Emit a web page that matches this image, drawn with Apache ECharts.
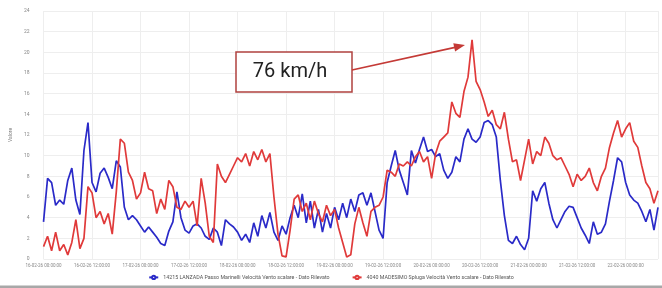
<!DOCTYPE html>
<html>
<head>
<meta charset="utf-8">
<script src="https://cdn.jsdelivr.net/npm/echarts@6/dist/echarts.min.js"></script>
<style>
html, body { margin: 0; padding: 0; background: #fff; }
#chart { width: 662px; height: 288px; }
</style>
</head>
<body>
<div id="chart"></div>
<script>
// x ticks, one every 12 hours
const tickLabels = [
  '16-02-26 00:00:00', '16-02-26 12:00:00', '17-02-26 00:00:00', '17-02-26 12:00:00',
  '18-02-26 00:00:00', '18-02-26 12:00:00', '19-02-26 00:00:00', '19-02-26 12:00:00',
  '20-02-26 00:00:00', '20-02-26 12:00:00', '21-02-26 00:00:00', '21-02-26 12:00:00',
  '22-02-26 00:00:00',
];
const seriesNames = [
  '14215 LANZADA Passo Marinelli Velocità Vento scalare - Dato Rilevato',
  '4040 MADESIMO Spluga Velocità Vento scalare - Dato Rilevato',
];
// hourly values (m/s)
const lanzada = [
  3.6, 7.8, 7.4, 5.2, 5.7, 5.3, 7.6, 8.8, 5.7, 4.3, 10.5, 13.2, 7.4, 6.5, 8.3, 8.8,
  7.9, 6.8, 9.5, 8.9, 5.0, 3.8, 4.2, 3.8, 3.2, 2.6, 3.1, 2.6, 2.1, 1.5, 1.3, 2.7,
  3.6, 6.5, 4.0, 2.8, 2.5, 3.2, 3.4, 3.0, 2.2, 1.9, 3.0, 2.6, 1.3, 3.8, 3.4, 3.1,
  2.6, 1.8, 2.4, 1.6, 3.5, 2.2, 4.2, 3.0, 4.5, 2.6, 1.8, 3.2, 2.4, 4.0, 5.2, 4.0,
  6.3, 3.5, 5.6, 3.0, 4.8, 2.6, 4.4, 3.0, 5.0, 3.8, 5.4, 4.0, 5.8, 4.6, 6.2, 6.4,
  5.2, 6.4, 4.6, 2.8, 2.0, 7.4, 9.0, 10.5, 8.6, 7.4, 6.2, 10.5, 9.3, 10.6, 11.8, 10.4,
  10.6, 9.9, 10.2, 8.6, 7.8, 8.4, 9.9, 9.4, 11.6, 12.6, 11.6, 11.3, 11.8, 13.2, 13.4, 13.0,
  11.8, 7.6, 4.2, 1.8, 1.5, 2.2, 1.4, 0.9, 2.0, 6.6, 5.6, 6.8, 7.4, 5.4, 3.8, 3.0,
  3.8, 4.6, 5.1, 5.0, 4.0, 3.0, 2.3, 1.5, 3.6, 2.4, 2.6, 3.4, 5.6, 7.6, 9.8, 9.4,
  7.4, 6.2, 5.7, 5.4, 4.6, 3.6, 4.8, 2.8, 5.0,
];
const madesimo = [
  1.2, 2.2, 0.8, 2.6, 0.8, 1.4, 0.4, 1.6, 3.8, 1.0, 2.0, 7.0, 6.4, 4.0, 4.6, 3.4,
  4.4, 2.4, 6.5, 11.6, 11.2, 8.4, 7.6, 5.8, 6.4, 8.4, 6.8, 6.6, 4.4, 5.8, 4.8, 7.6,
  7.0, 5.0, 4.8, 5.6, 5.0, 5.6, 3.2, 7.8, 5.4, 2.2, 1.6, 9.2, 8.0, 7.4, 8.2, 9.0,
  9.8, 9.4, 10.2, 9.0, 10.4, 9.6, 10.6, 9.4, 10.2, 6.0, 2.4, 0.3, 0.2, 2.8, 5.8, 6.2,
  4.6, 5.4, 3.8, 5.6, 4.4, 3.6, 5.2, 4.2, 4.8, 3.0, 1.6, 0.2, 0.4, 3.4, 5.0, 3.5,
  2.2, 4.6, 5.0, 5.2, 6.0, 8.6, 8.4, 8.0, 9.2, 9.0, 9.4, 9.0, 9.9, 10.4, 9.4, 9.9,
  7.8, 10.2, 11.4, 11.8, 12.2, 15.2, 14.1, 13.7, 16.2, 17.6, 21.2, 17.2, 16.4, 15.2, 13.8, 14.4,
  13.0, 12.6, 14.2, 11.6, 9.4, 9.6, 7.6, 9.6, 11.6, 9.2, 10.4, 10.0, 11.8, 11.2, 10.0, 9.6,
  9.8, 9.0, 8.2, 7.0, 8.2, 7.6, 8.0, 8.8, 7.4, 6.6, 8.0, 8.8, 10.8, 12.2, 13.4, 11.8,
  12.6, 13.2, 11.4, 10.8, 9.0, 7.4, 6.8, 5.4, 6.6,
];

const font = 'Roboto, "Noto Sans", sans-serif';
const myChart = echarts.init(document.getElementById('chart'));

const option = {
  animation: false,
  backgroundColor: '#fff',
  grid: { left: 37, right: 4, top: 11, bottom: 29 },
  legend: {
    bottom: 3,
    left: 'center',
    itemWidth: 9,
    itemHeight: 4,
    itemGap: 22,
    textStyle: { fontSize: 5.3, color: '#555', fontFamily: font },
    data: seriesNames,
  },
  xAxis: {
    type: 'value',
    min: 0,
    max: lanzada.length - 1,
    interval: 12,
    axisLine: { show: false },
    axisTick: { show: false },
    splitLine: { lineStyle: { color: '#eeeeee', width: 1 } },
    axisLabel: {
      fontSize: 4.5,
      color: '#888',
      fontFamily: font,
      margin: 4,
      showMaxLabel: false,
      formatter: (v) => (v % 12 === 0 ? tickLabels[v / 12] || '' : ''),
    },
  },
  yAxis: {
    type: 'value',
    min: 0,
    max: 24,
    interval: 2,
    name: 'Valore',
    nameLocation: 'middle',
    nameGap: 24,
    nameTextStyle: { fontSize: 5, color: '#777', fontFamily: font },
    axisLine: { show: false },
    axisTick: { show: false },
    splitLine: { lineStyle: { color: '#eeeeee', width: 1 } },
    axisLabel: { fontSize: 5, color: '#888', fontFamily: font, margin: 14 },
  },
  series: [
    {
      name: seriesNames[0],
      type: 'line',
      showSymbol: false,
      color: '#2a2ac8',
      lineStyle: { width: 1.7, color: '#2a2ac8' },
      data: lanzada.map((v, i) => [i, v]),
    },
    {
      name: seriesNames[1],
      type: 'line',
      showSymbol: false,
      color: '#e03a3a',
      lineStyle: { width: 1.7, color: '#e03a3a' },
      data: madesimo.map((v, i) => [i, v]),
    },
  ],
  // the "76 km/h" callout and the frame edge at the bottom
  graphic: [
    {
      type: 'rect',
      shape: { x: 236, y: 52, width: 116, height: 40 },
      style: { fill: '#fff', stroke: '#b0423f', lineWidth: 1.5 },
      z: 100,
    },
    {
      type: 'text',
      x: 290,
      y: 72,
      style: {
        text: '76 km/h',
        fill: '#222',
        font: '20px ' + font,
        align: 'center',
        verticalAlign: 'middle',
      },
      z: 101,
    },
    {
      type: 'line',
      shape: { x1: 352, y1: 70, x2: 455, y2: 47.4 },
      style: { stroke: '#c43a36', lineWidth: 1.6 },
      z: 100,
    },
    {
      type: 'polygon',
      shape: { points: [[465, 45], [455.1, 51.6], [453.3, 43.2]] },
      style: { fill: '#c43a36' },
      z: 100,
    },
    {
      type: 'rect',
      shape: { x: 0, y: 285.5, width: 662, height: 2.5 },
      style: { fill: '#a8a8a8' },
      z: 100,
    },
  ],
};

myChart.setOption(option);
</script>
</body>
</html>
